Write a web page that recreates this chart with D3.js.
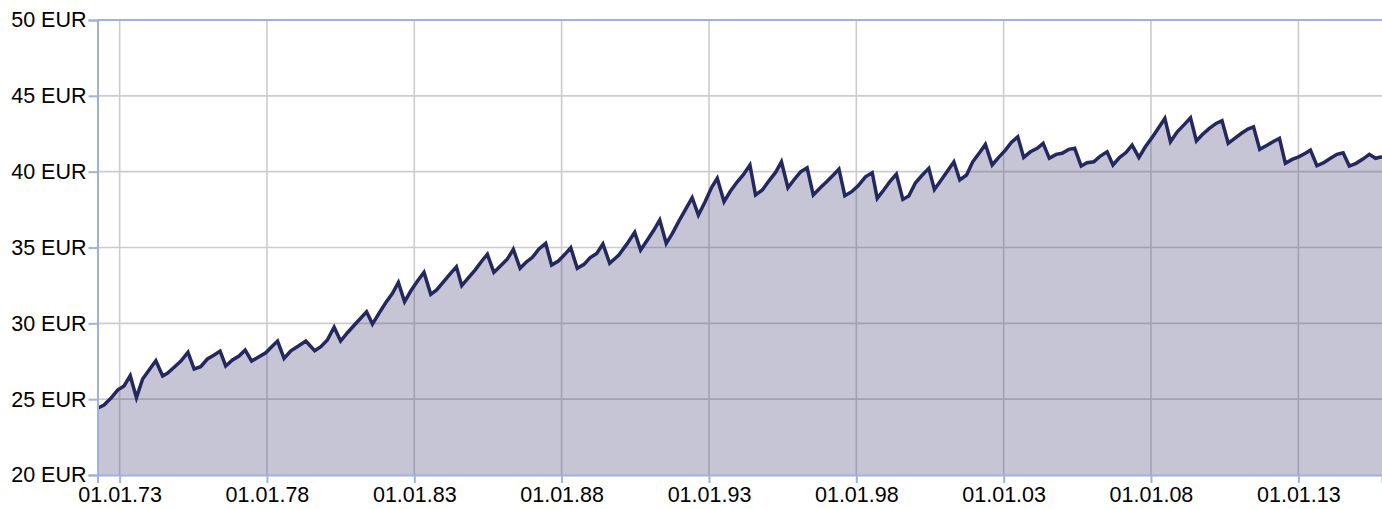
<!DOCTYPE html>
<html>
<head>
<meta charset="utf-8">
<script src="https://cdn.jsdelivr.net/npm/d3@7"></script>
<style>
  html, body { margin: 0; padding: 0; background: #ffffff; }
  svg { display: block; }
  text { font-family: "Liberation Sans", Arial, sans-serif; }
</style>
</head>
<body>
<svg id="chart" width="1382" height="509"></svg>
<script>
// Decimal-year dates of the observations
const dates = [
  1972.25, 1972.47, 1972.70, 1972.93, 1973.15, 1973.36, 1973.57, 1973.78, 1974.00, 1974.23,
  1974.46, 1974.62, 1974.85, 1975.08, 1975.32, 1975.53, 1975.75, 1975.98, 1976.21, 1976.41,
  1976.60, 1976.83, 1977.05, 1977.26, 1977.48, 1977.73, 1977.96, 1978.16, 1978.36, 1978.58,
  1978.81, 1979.03, 1979.32, 1979.62, 1979.83, 1980.05, 1980.28, 1980.50, 1980.73, 1981.06,
  1981.38, 1981.58, 1981.80, 1982.03, 1982.26, 1982.46, 1982.67, 1982.88, 1983.11, 1983.33,
  1983.56, 1983.76, 1983.99, 1984.21, 1984.43, 1984.61, 1984.84, 1985.06, 1985.29, 1985.48,
  1985.70, 1985.93, 1986.16, 1986.36, 1986.59, 1986.81, 1987.01, 1987.23, 1987.46, 1987.66,
  1987.89, 1988.11, 1988.31, 1988.53, 1988.76, 1988.96, 1989.19, 1989.40, 1989.63, 1989.94,
  1990.23, 1990.48, 1990.68, 1990.91, 1991.13, 1991.33, 1991.55, 1991.76, 1991.98, 1992.21,
  1992.43, 1992.64, 1992.86, 1993.09, 1993.28, 1993.51, 1993.73, 1993.96, 1994.16, 1994.39,
  1994.58, 1994.81, 1995.03, 1995.26, 1995.46, 1995.68, 1995.88, 1996.11, 1996.33, 1996.54,
  1996.76, 1996.99, 1997.22, 1997.41, 1997.61, 1997.84, 1998.06, 1998.31, 1998.54, 1998.71,
  1998.93, 1999.16, 1999.36, 1999.58, 1999.78, 2000.01, 2000.24, 2000.46, 2000.65, 2000.88,
  2001.10, 2001.31, 2001.51, 2001.74, 2001.95, 2002.18, 2002.38, 2002.61, 2002.83, 2003.06,
  2003.26, 2003.48, 2003.68, 2003.91, 2004.14, 2004.34, 2004.55, 2004.78, 2004.98, 2005.21,
  2005.41, 2005.63, 2005.83, 2006.06, 2006.28, 2006.51, 2006.71, 2006.93, 2007.15, 2007.36,
  2007.59, 2007.81, 2008.04, 2008.26, 2008.47, 2008.66, 2008.89, 2009.11, 2009.34, 2009.54,
  2009.75, 2009.98, 2010.21, 2010.41, 2010.62, 2010.84, 2011.07, 2011.29, 2011.48, 2011.69,
  2011.91, 2012.14, 2012.36, 2012.56, 2012.79, 2013.01, 2013.24, 2013.41, 2013.63, 2013.86,
  2014.09, 2014.31, 2014.52, 2014.73, 2014.96, 2015.19, 2015.41, 2015.62, 2015.84
];

// Price in EUR
const values = [
  24.40, 24.61, 25.06, 25.60, 25.87, 26.55, 25.10, 26.33, 26.92, 27.53,
  26.53, 26.70, 27.10, 27.51, 28.09, 26.99, 27.14, 27.65, 27.91, 28.17,
  27.19, 27.58, 27.84, 28.24, 27.51, 27.80, 28.06, 28.46, 28.83, 27.69,
  28.19, 28.46, 28.83, 28.19, 28.46, 28.90, 29.74, 28.83, 29.38, 30.09,
  30.76, 29.95, 30.66, 31.36, 31.98, 32.70, 31.42, 32.13, 32.79, 33.36,
  31.91, 32.20, 32.74, 33.25, 33.73, 32.48, 33.01, 33.51, 34.11, 34.55,
  33.36, 33.80, 34.24, 34.88, 33.63, 34.06, 34.35, 34.90, 35.27, 33.84,
  34.11, 34.55, 34.98, 33.63, 33.89, 34.32, 34.61, 35.23, 33.96, 34.50,
  35.27, 36.00, 34.83, 35.49, 36.15, 36.81, 35.27, 35.93, 36.74, 37.53,
  38.28, 37.14, 37.98, 38.97, 39.56, 38.02, 38.72, 39.33, 39.78, 40.44,
  38.46, 38.79, 39.38, 39.95, 40.65, 38.94, 39.45, 39.99, 40.26, 38.46,
  38.90, 39.33, 39.78, 40.17, 38.41, 38.68, 39.07, 39.66, 39.93, 38.24,
  38.79, 39.40, 39.84, 38.17, 38.39, 39.27, 39.78, 40.22, 38.83, 39.45,
  40.06, 40.65, 39.45, 39.78, 40.65, 41.25, 41.80, 40.44, 40.94, 41.42,
  41.93, 42.30, 40.94, 41.31, 41.54, 41.87, 40.88, 41.14, 41.21, 41.47,
  41.54, 40.37, 40.59, 40.65, 41.03, 41.31, 40.44, 40.93, 41.26, 41.75,
  40.94, 41.64, 42.26, 42.89, 43.51, 41.97, 42.63, 43.07, 43.55, 42.02,
  42.46, 42.85, 43.18, 43.36, 41.87, 42.20, 42.53, 42.81, 42.96, 41.47,
  41.71, 41.97, 42.20, 40.55, 40.81, 40.98, 41.21, 41.42, 40.39, 40.59,
  40.88, 41.14, 41.25, 40.37, 40.55, 40.83, 41.14, 40.88, 40.98
];

const yTicks = [20, 25, 30, 35, 40, 45, 50];
const xTickYears = [1973, 1978, 1983, 1988, 1993, 1998, 2003, 2008, 2013];

function toDate(y) {
  const yr = Math.floor(y);
  const start = Date.UTC(yr, 0, 1), end = Date.UTC(yr + 1, 0, 1);
  return new Date(start + (y - yr) * (end - start));
}

const data = dates.map((d, i) => ({ date: toDate(d), value: values[i] }));
const xTicks = xTickYears.map(y => new Date(Date.UTC(y, 0, 1)));

const W = 1382, H = 509;
const m = { left: 97.5, right: 0, top: 20, bottom: 34 };
const svg = d3.select("#chart");

const x = d3.scaleUtc()
  .domain([data[0].date, data[data.length - 1].date])
  .range([m.left, W - m.right]);
const y = d3.scaleLinear().domain([20, 50]).range([H - m.bottom, m.top]);

const gridColor = "#cccccc";
const axisColor = "#9fb2dc";
const fontSize = "21.5px";

// grid
const grid = svg.append("g");
grid.selectAll("line.h").data(yTicks.filter(v => v > 20 && v < 50)).join("line")
  .attr("x1", m.left).attr("x2", W - m.right)
  .attr("y1", d => y(d)).attr("y2", d => y(d))
  .attr("stroke", gridColor).attr("stroke-width", 1.6);
grid.selectAll("line.v").data(xTicks).join("line")
  .attr("x1", d => x(d)).attr("x2", d => x(d))
  .attr("y1", m.top).attr("y2", H - m.bottom)
  .attr("stroke", gridColor).attr("stroke-width", 1.6);

// area
const area = d3.area()
  .x(d => x(d.date)).y0(y(20)).y1(d => y(d.value));
svg.append("path").datum(data)
  .attr("d", area)
  .attr("fill", "rgb(62,64,120)")
  .attr("fill-opacity", 0.3);

// line
const line = d3.line().x(d => x(d.date)).y(d => y(d.value));
svg.append("path").datum(data)
  .attr("d", line)
  .attr("fill", "none")
  .attr("stroke", "#25285f")
  .attr("stroke-width", 3.5)
  .attr("stroke-linejoin", "miter");

// axes
const yAxis = d3.axisLeft(y).tickValues(yTicks).tickSize(9).tickPadding(2)
  .tickFormat(d => d + " EUR");
const gy = svg.append("g").attr("transform", `translate(${m.left},0)`).call(yAxis);
gy.attr("font-size", null);
gy.select(".domain").attr("stroke", axisColor).attr("stroke-width", 2);
gy.selectAll(".tick line").attr("stroke", axisColor).attr("stroke-width", 2);
gy.selectAll(".tick text").attr("fill", "#000")
  .style("font-size", fontSize)
  .style("font-family", '"Liberation Sans", Arial, sans-serif');

const xAxis = d3.axisBottom(x).tickValues(xTicks).tickSize(8).tickPadding(4)
  .tickFormat(d3.utcFormat("%d.%m.%y"));
const gx = svg.append("g").attr("transform", `translate(0,${H - m.bottom})`).call(xAxis);
gx.attr("font-size", null);
gx.select(".domain").attr("stroke", axisColor).attr("stroke-width", 2);
gx.selectAll(".tick line").attr("stroke", axisColor).attr("stroke-width", 2);
gx.selectAll(".tick text").attr("fill", "#000")
  .style("font-size", fontSize)
  .style("font-family", '"Liberation Sans", Arial, sans-serif');

// top border
svg.append("line")
  .attr("x1", m.left).attr("x2", W).attr("y1", y(50)).attr("y2", y(50))
  .attr("stroke", axisColor).attr("stroke-width", 2);
</script>
</body>
</html>
